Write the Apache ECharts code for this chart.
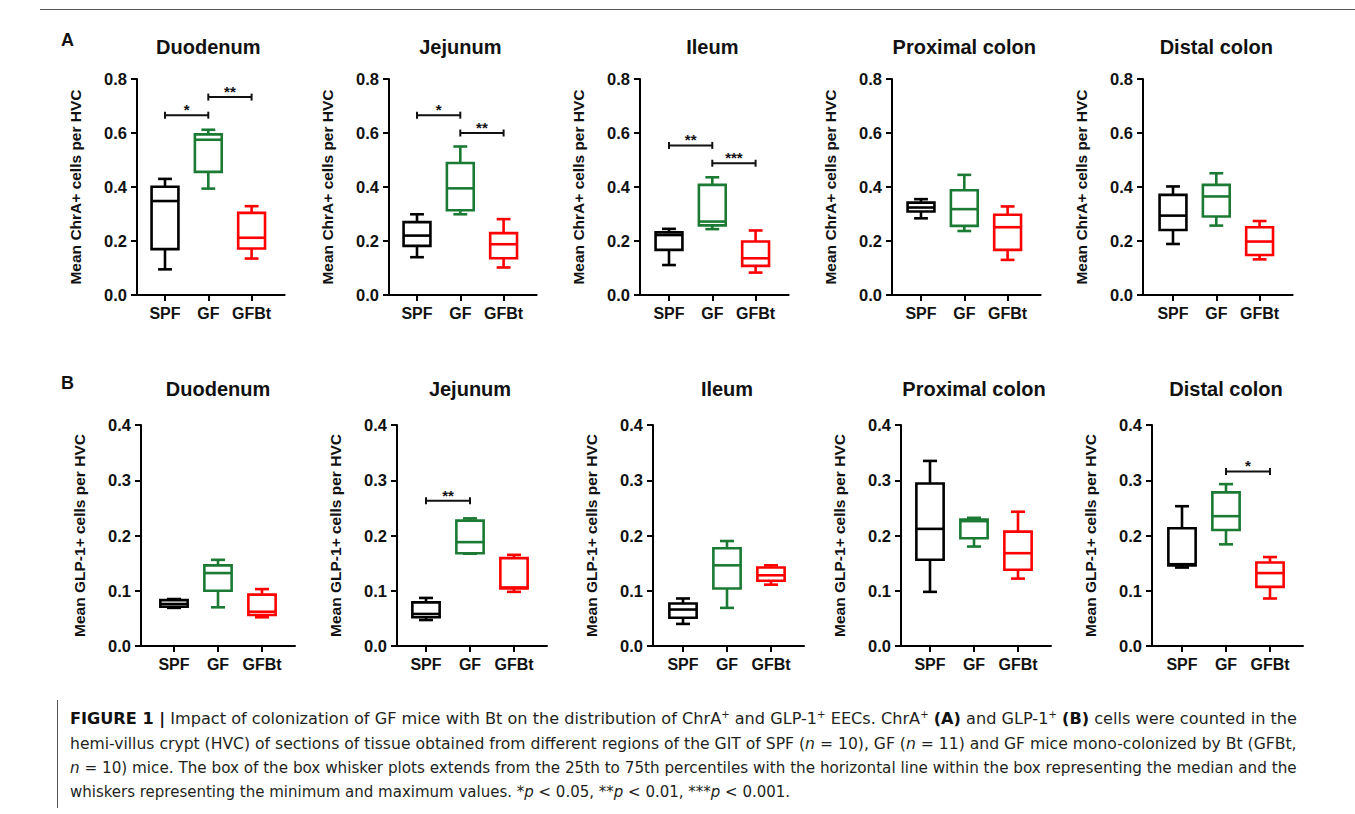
<!DOCTYPE html>
<html><head><meta charset="utf-8">
<script src="https://cdn.jsdelivr.net/npm/echarts@6/dist/echarts.min.js"></script>
<style>
html,body{margin:0;padding:0;background:#fff;}
#chart{position:absolute;left:0;top:0;width:1355px;height:814px;}
.cl{position:absolute;white-space:nowrap;font-family:"Liberation Sans Narrow","DejaVu Sans Condensed","Liberation Sans",sans-serif;font-size:16px;color:#231f20;line-height:20px;transform-origin:0 50%;}
.cl b{font-weight:bold;color:#111}
.cl sup{font-size:10px;vertical-align:6px;line-height:0}
#topline{position:absolute;left:40px;top:9px;width:1315px;height:1px;background:#555}
#bar{position:absolute;left:57px;top:700px;width:1px;height:108px;background:#555}
</style></head><body>
<div id="chart"></div>
<div id="topline"></div><div id="bar"></div>
<div class="cl" style="left:70px;top:709px" data-w="1227"><b>FIGURE 1 |</b> Impact of colonization of GF mice with Bt on the distribution of ChrA<sup>+</sup> and GLP-1<sup>+</sup> EECs. ChrA<sup>+</sup> <b>(A)</b> and GLP-1<sup>+</sup> <b>(B)</b> cells were counted in the</div>
<div class="cl" style="left:70px;top:734px" data-w="1227">hemi-villus crypt (HVC) of sections of tissue obtained from different regions of the GIT of SPF (<i>n</i> = 10), GF (<i>n</i> = 11) and GF mice mono-colonized by Bt (GFBt,</div>
<div class="cl" style="left:70px;top:758px" data-w="1227"><i>n</i> = 10) mice. The box of the box whisker plots extends from the 25th to 75th percentiles with the horizontal line within the box representing the median and the</div>
<div class="cl" style="left:70px;top:782px" data-w="720">whiskers representing the minimum and maximum values. *<i>p</i> &lt; 0.05, **<i>p</i> &lt; 0.01, ***<i>p</i> &lt; 0.001.</div>
<script>
// ---------- data ----------
const categories = ['SPF', 'GF', 'GFBt'];
const regions = ['Duodenum', 'Jejunum', 'Ileum', 'Proximal colon', 'Distal colon'];
const yTicksA = ['0.0', '0.2', '0.4', '0.6', '0.8'];
const yTicksB = ['0.0', '0.1', '0.2', '0.3', '0.4'];
const yNameA = 'Mean ChrA+ cells per HVC';
const yNameB = 'Mean GLP-1+ cells per HVC';

// each group: [min, Q1, median, Q3, max] for SPF, GF, GFBt
const chrA_duodenum = [[0.095, 0.170, 0.348, 0.401, 0.430], [0.394, 0.456, 0.575, 0.595, 0.612], [0.135, 0.172, 0.212, 0.304, 0.329]];
const chrA_jejunum  = [[0.140, 0.182, 0.220, 0.270, 0.299], [0.299, 0.314, 0.395, 0.489, 0.550], [0.102, 0.136, 0.188, 0.229, 0.281]];
const chrA_ileum    = [[0.111, 0.167, 0.222, 0.232, 0.245], [0.244, 0.258, 0.272, 0.408, 0.436], [0.083, 0.108, 0.136, 0.198, 0.239]];
const chrA_proximal = [[0.284, 0.309, 0.324, 0.342, 0.355], [0.237, 0.256, 0.318, 0.388, 0.445], [0.130, 0.167, 0.251, 0.297, 0.328]];
const chrA_distal   = [[0.189, 0.241, 0.294, 0.371, 0.402], [0.257, 0.291, 0.365, 0.408, 0.451], [0.132, 0.148, 0.198, 0.251, 0.274]];

const glp1_duodenum = [[0.069, 0.071, 0.076, 0.083, 0.085], [0.070, 0.100, 0.132, 0.146, 0.156], [0.052, 0.056, 0.062, 0.093, 0.103]];
const glp1_jejunum  = [[0.047, 0.052, 0.058, 0.079, 0.087], [0.167, 0.168, 0.188, 0.227, 0.231], [0.098, 0.104, 0.106, 0.159, 0.165]];
const glp1_ileum    = [[0.040, 0.051, 0.066, 0.077, 0.086], [0.069, 0.104, 0.146, 0.177, 0.190], [0.111, 0.118, 0.128, 0.142, 0.146]];
const glp1_proximal = [[0.098, 0.156, 0.212, 0.294, 0.335], [0.180, 0.195, 0.226, 0.229, 0.232], [0.122, 0.138, 0.168, 0.207, 0.243]];
const glp1_distal   = [[0.142, 0.146, 0.148, 0.213, 0.253], [0.184, 0.210, 0.235, 0.278, 0.293], [0.086, 0.107, 0.132, 0.151, 0.161]];

// significance brackets: [from group, to group, height, stars]
const sigA_duodenum = [[0, 1, 0.666, '*'], [1, 2, 0.733, '**']];
const sigA_jejunum  = [[0, 1, 0.666, '*'], [1, 2, 0.600, '**']];
const sigA_ileum    = [[0, 1, 0.554, '**'], [1, 2, 0.488, '***']];
const sigA_proximal = [];
const sigA_distal   = [];
const sigB_duodenum = [];
const sigB_jejunum  = [[0, 1, 0.263, '**']];
const sigB_ileum    = [];
const sigB_proximal = [];
const sigB_distal   = [[1, 2, 0.316, '*']];

const rowA = [chrA_duodenum, chrA_jejunum, chrA_ileum, chrA_proximal, chrA_distal];
const rowB = [glp1_duodenum, glp1_jejunum, glp1_ileum, glp1_proximal, glp1_distal];
const sigRowA = [sigA_duodenum, sigA_jejunum, sigA_ileum, sigA_proximal, sigA_distal];
const sigRowB = [sigB_duodenum, sigB_jejunum, sigB_ileum, sigB_proximal, sigB_distal];

// ---------- layout / style ----------
const FONT = 'Arial, "Liberation Sans", Helvetica, sans-serif';
const groupColors = ['#000000', '#1b7a33', '#ff0000'];
const layoutA = { top: 79, height: 216, left: [137, 389, 640, 892, 1143], spf: [165, 417, 669, 921, 1173], sp: 43.3, titleY: 46.5, yMax: 0.8, yStep: 0.2, ticks: yTicksA, yName: yNameA };
const layoutB = { top: 425, height: 221, left: [141, 397, 653, 901, 1152], spf: [174, 426, 683, 930, 1182], sp: 44, titleY: 389, yMax: 0.4, yStep: 0.1, ticks: yTicksB, yName: yNameB };
const rightGap = 33;

const grids = [], xAxes = [], yAxes = [], series = [], graphics = [];

function boxRenderer(params, api) {
  const x = api.value(0);
  const ys = [1, 2, 3, 4, 5].map(d => api.coord([x, api.value(d)])[1]);
  const cx = api.coord([x, 0])[0];
  const unit = api.size([1, 0])[0];
  const hw = unit * 0.31, cw = unit * 0.16;
  const color = groupColors[api.value(6)];
  const st = { stroke: color, lineWidth: 2.6, fill: null };
  return {
    type: 'group',
    children: [
      { type: 'line', shape: { x1: cx, y1: ys[3], x2: cx, y2: ys[4] }, style: st },
      { type: 'line', shape: { x1: cx - cw, y1: ys[4], x2: cx + cw, y2: ys[4] }, style: st },
      { type: 'line', shape: { x1: cx, y1: ys[1], x2: cx, y2: ys[0] }, style: st },
      { type: 'line', shape: { x1: cx - cw, y1: ys[0], x2: cx + cw, y2: ys[0] }, style: st },
      { type: 'rect', shape: { x: cx - hw, y: ys[3], width: 2 * hw, height: ys[1] - ys[3] }, style: { stroke: color, lineWidth: 2.6, fill: '#fff' } },
      { type: 'line', shape: { x1: cx - hw, y1: ys[2], x2: cx + hw, y2: ys[2] }, style: st }
    ]
  };
}

function sigRenderer(list) {
  return function (params, api) {
    const y = api.value(2);
    const p1 = api.coord([api.value(0), y]);
    const p2 = api.coord([api.value(1), y]);
    const st = { stroke: '#111', lineWidth: 2, fill: null };
    return {
      type: 'group',
      children: [
        { type: 'line', shape: { x1: p1[0], y1: p1[1], x2: p2[0], y2: p2[1] }, style: st },
        { type: 'line', shape: { x1: p1[0], y1: p1[1] - 3.5, x2: p1[0], y2: p1[1] + 3.5 }, style: st },
        { type: 'line', shape: { x1: p2[0], y1: p2[1] - 3.5, x2: p2[0], y2: p2[1] + 3.5 }, style: st },
        { type: 'text', x: (p1[0] + p2[0]) / 2, y: p1[1] + 2,
          style: { text: list[params.dataIndex][3], fill: '#111', font: 'bold 15px ' + FONT, align: 'center', verticalAlign: 'bottom' } }
      ]
    };
  };
}

function addRow(layout, rowData, sigRow) {
  for (let i = 0; i < 5; i++) {
    const idx = grids.length;
    const left = layout.left[i], spf = layout.spf[i], sp = layout.sp;
    const xMin = 1 - (spf - left) / sp;
    const xMax = 3 + rightGap / sp;
    const width = (xMax - xMin) * sp;
    grids.push({ left: left, top: layout.top, width: width, height: layout.height });
    xAxes.push({
      type: 'value', gridIndex: idx, min: xMin, max: xMax,
      axisLine: { show: true, onZero: false, lineStyle: { color: '#000', width: 2 } },
      axisTick: { show: true, customValues: [1, 2, 3], length: 6, lineStyle: { color: '#000', width: 2 } },
      axisLabel: { show: true, customValues: [1, 2, 3], formatter: v => categories[Math.round(v) - 1] || '',
        color: '#111', fontSize: 16, fontWeight: 'bold', fontFamily: FONT, margin: 10 },
      splitLine: { show: false }
    });
    const ticks = layout.ticks, step = layout.yStep;
    yAxes.push({
      type: 'value', gridIndex: idx, min: 0, max: layout.yMax, interval: step,
      axisLine: { show: true, onZero: false, lineStyle: { color: '#000', width: 2 } },
      axisTick: { show: true, length: 6, lineStyle: { color: '#000', width: 2 } },
      axisLabel: { formatter: v => ticks[Math.round(v / step)], color: '#111', fontSize: 16.5, fontWeight: 'bold', fontFamily: FONT, margin: 10 },
      splitLine: { show: false },
      name: layout.yName, nameLocation: 'middle', nameGap: 54,
      nameTextStyle: { color: '#111', fontSize: 15.5, fontWeight: 'bold', fontFamily: FONT }
    });
    series.push({
      type: 'custom', xAxisIndex: idx, yAxisIndex: idx, silent: true, clip: false,
      data: rowData[i].map((s, k) => [k + 1, s[0], s[1], s[2], s[3], s[4], k]),
      encode: { x: 0, y: [1, 2, 3, 4, 5] },
      renderItem: boxRenderer
    });
    const sig = sigRow[i];
    if (sig.length) {
      series.push({
        type: 'custom', xAxisIndex: idx, yAxisIndex: idx, silent: true, clip: false,
        data: sig.map(s => [s[0] + 1, s[1] + 1, s[2]]),
        encode: { x: [0, 1], y: 2 },
        renderItem: sigRenderer(sig)
      });
    }
    graphics.push({
      type: 'text', x: spf + sp, y: layout.titleY,
      style: { text: regions[i], fill: '#111', font: 'bold 20px ' + FONT, align: 'center', verticalAlign: 'middle' }
    });
  }
}
addRow(layoutA, rowA, sigRowA);
addRow(layoutB, rowB, sigRowB);
graphics.push({ type: 'text', x: 61, y: 40, style: { text: 'A', fill: '#111', font: 'bold 18px ' + FONT, align: 'left', verticalAlign: 'middle' } });
graphics.push({ type: 'text', x: 61, y: 383, style: { text: 'B', fill: '#111', font: 'bold 18px ' + FONT, align: 'left', verticalAlign: 'middle' } });

const chart = echarts.init(document.getElementById('chart'), null, { renderer: 'svg' });
chart.setOption({
  animation: false,
  backgroundColor: '#fff',
  grid: grids, xAxis: xAxes, yAxis: yAxes, series: series, graphic: graphics
});

function fitCaption() {
  document.querySelectorAll('.cl').forEach(el => {
    el.style.transform = 'none';
    const w = el.offsetWidth;
    const target = +el.dataset.w;
    el.style.transform = 'scaleX(' + (target / w) + ')';
  });
}
fitCaption();
if (document.fonts && document.fonts.ready) document.fonts.ready.then(fitCaption);
</script>
</body></html>
